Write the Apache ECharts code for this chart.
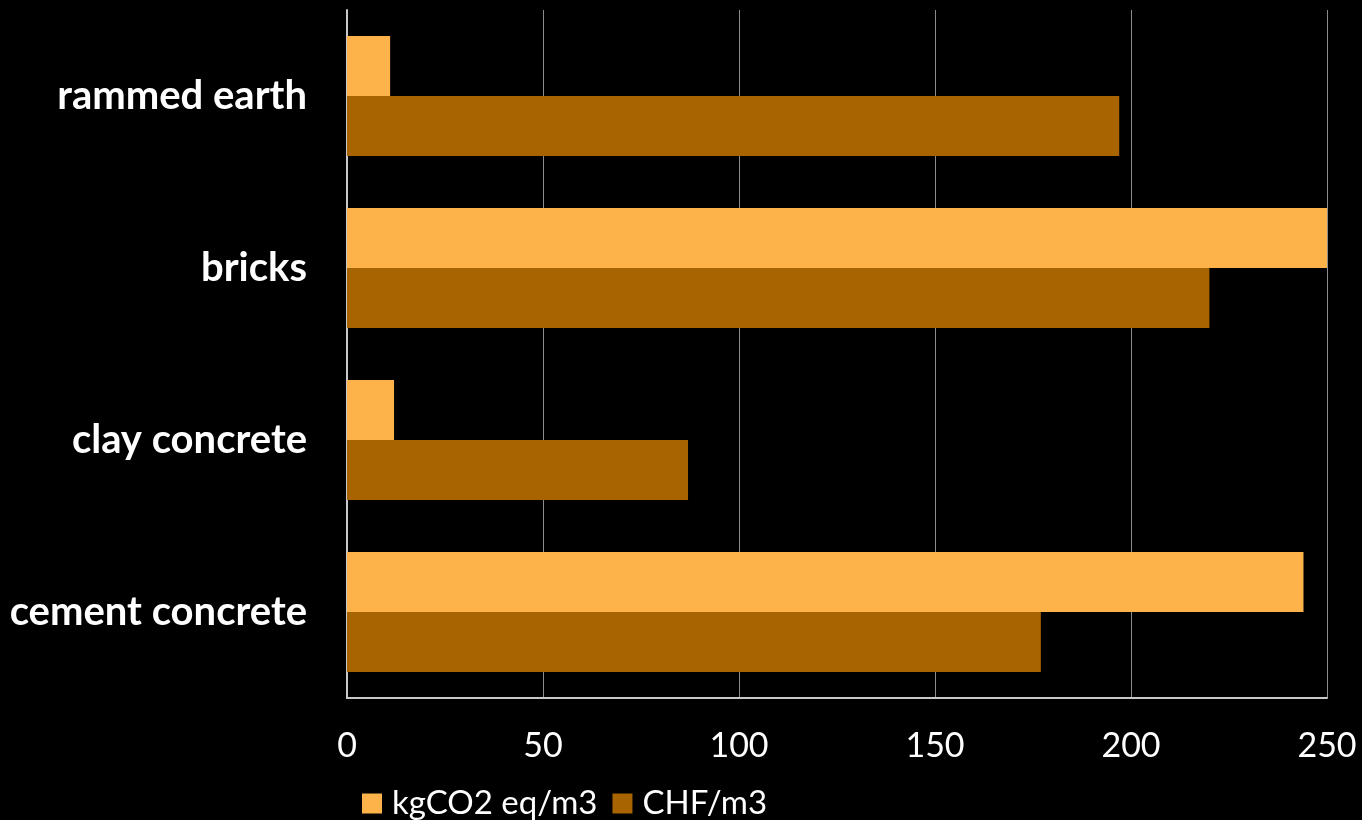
<!DOCTYPE html>
<html>
<head>
<meta charset="utf-8">
<script src="https://cdn.jsdelivr.net/npm/echarts@6/dist/echarts.min.js"></script>
<style>
  html, body { margin: 0; padding: 0; background: #000; }
  #chart { width: 1362px; height: 820px; }
</style>
</head>
<body>
<div id="chart"></div>
<script>
const categories = ['cement concrete', 'clay concrete', 'bricks', 'rammed earth']
const co2Values = [244, 12, 250, 11]
const chfValues = [177, 87, 220, 197]
const xTicks = [0, 50, 100, 150, 200, 250]

const font = 'Lato, "Open Sans", sans-serif'
const chart = echarts.init(document.getElementById('chart'))

const option = {
  backgroundColor: '#000',
  animation: false,
  textStyle: { fontFamily: font },
  grid: { left: 347, right: 35, top: 10, bottom: 122, containLabel: false },
  legend: {
    left: 357,
    top: 782,
    itemWidth: 20,
    itemHeight: 20,
    itemGap: 15,
    icon: 'rect',
    textStyle: { color: '#fff', fontSize: 33, fontFamily: font, padding: [0, 0, 0, 5] },
    data: ['kgCO2 eq/m3', 'CHF/m3']
  },
  xAxis: {
    type: 'value',
    min: xTicks[0],
    max: xTicks[xTicks.length - 1],
    interval: 50,
    axisLine: { show: true, lineStyle: { color: '#c8c8c8', width: 2 } },
    axisTick: { show: false },
    axisLabel: { color: '#fff', fontSize: 34, margin: 31, fontFamily: font },
    splitLine: { show: true, lineStyle: { color: '#8c8c8c', width: 1 } }
  },
  yAxis: {
    type: 'category',
    data: categories,
    axisLine: { show: true, lineStyle: { color: '#c8c8c8', width: 2 } },
    axisTick: { show: false },
    axisLabel: { color: '#fff', fontSize: 40, fontWeight: 'bold', margin: 40, fontFamily: font }
  },
  series: [
    {
      name: 'kgCO2 eq/m3',
      type: 'bar',
      data: co2Values,
      itemStyle: { color: '#fdb349' },
      barWidth: 60,
      barGap: '0%'
    },
    {
      name: 'CHF/m3',
      type: 'bar',
      data: chfValues,
      itemStyle: { color: '#a86400' },
      barWidth: 60,
      barGap: '0%'
    }
  ]
}

chart.setOption(option)
</script>
</body>
</html>
